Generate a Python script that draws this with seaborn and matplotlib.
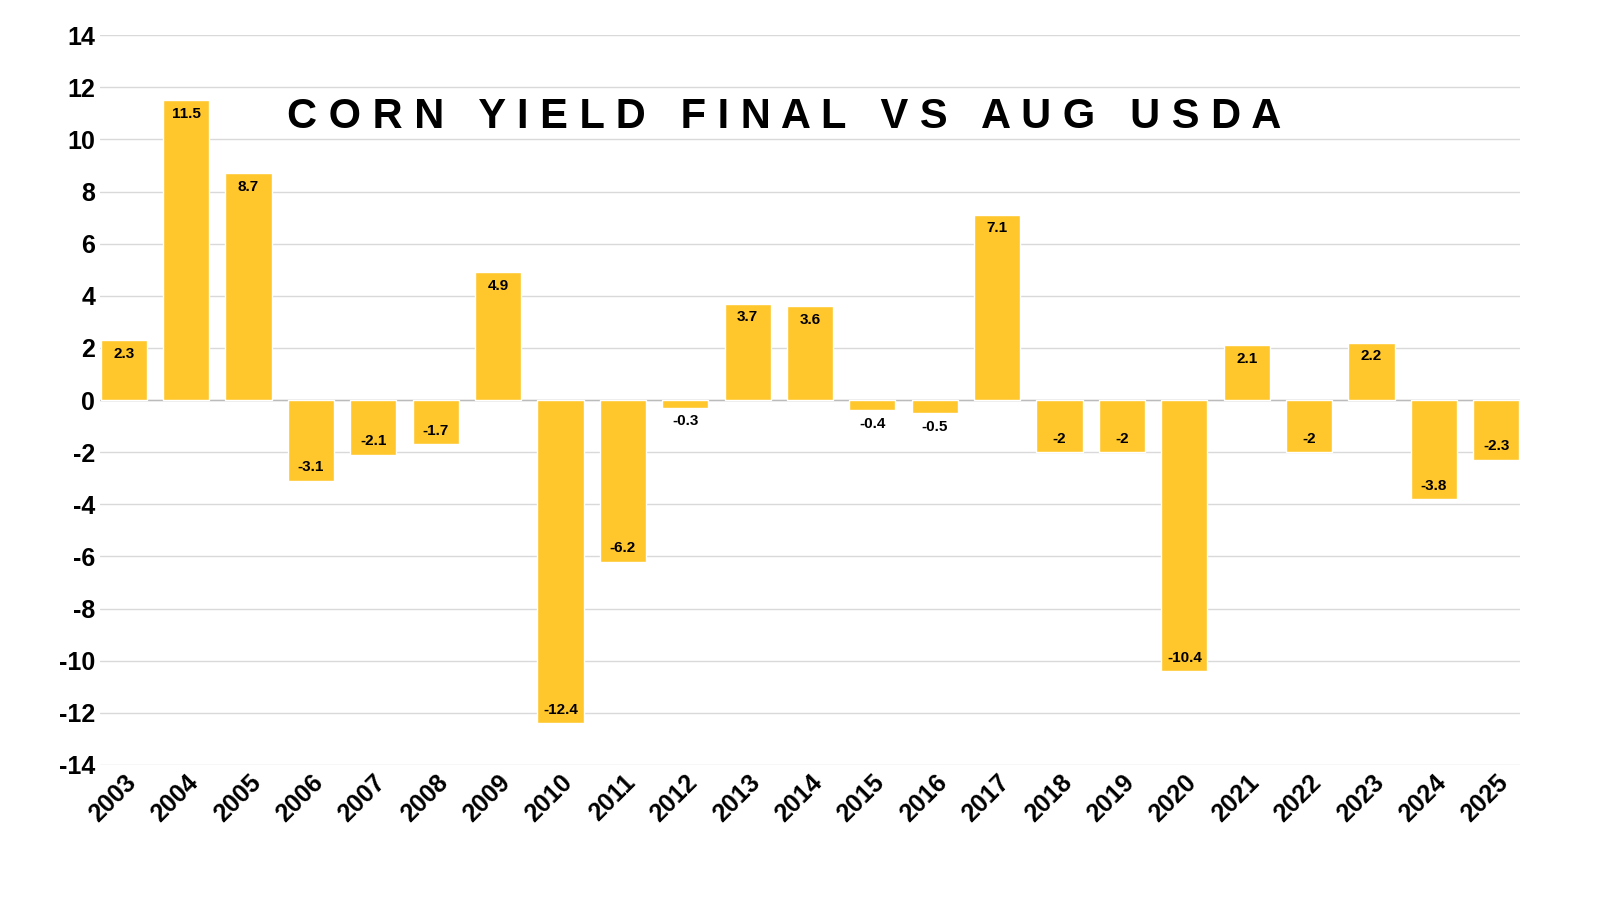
import matplotlib
matplotlib.use("Agg")
import matplotlib.pyplot as plt
import seaborn as sns
import pandas as pd

years = [str(y) for y in range(2003, 2026)]
diffs = [2.3, 11.5, 8.7, -3.1, -2.1, -1.7, 4.9, -12.4, -6.2, -0.3, 3.7, 3.6,
         -0.4, -0.5, 7.1, -2, -2, -10.4, 2.1, -2, 2.2, -3.8, -2.3]
title = "CORN YIELD FINAL VS AUG USDA"

sns.set_style("white")
plt.rcParams['font.family'] = ['Liberation Sans', 'DejaVu Sans']
plt.rcParams['axes.unicode_minus'] = False

df = pd.DataFrame({'year': years, 'diff': diffs})
fig = plt.figure(figsize=(16, 9), dpi=100)
ax = fig.add_axes([0.0625, 0.15, 0.8875, 0.811])
sns.barplot(data=df, x='year', y='diff', color='#FFC72C', saturation=1,
            width=0.74, ax=ax, zorder=3)

for i, v in enumerate(diffs):
    lab = f"{v:g}"
    if v >= 0:
        ax.text(i, v - 0.25, lab, ha='center', va='top', fontsize=11,
                fontweight='bold', color='black', zorder=4)
    elif v < -1:
        ax.text(i, v + 0.25, lab, ha='center', va='bottom', fontsize=11,
                fontweight='bold', color='black', zorder=4)
    else:
        ax.text(i, v - 0.25, lab, ha='center', va='top', fontsize=11,
                fontweight='bold', color='black', zorder=4)

ax.set_ylim(-14, 14)
ax.set_yticks(range(-14, 15, 2))
ax.set_xlim(-0.38, len(years) - 0.62)
ax.grid(axis='y', color='#d9d9d9', linewidth=1, zorder=0)
for s in ax.spines.values():
    s.set_visible(False)
ax.axhline(0, color='#bbbbbb', linewidth=1, zorder=2)
ax.set_xlabel('')
ax.set_ylabel('')
ax.tick_params(axis='both', length=0, labelsize=18, colors='black')
for t in ax.get_yticklabels():
    t.set_fontweight('bold')
for t in ax.get_xticklabels():
    t.set_fontweight('bold')
    t.set_rotation(45)
    t.set_ha('right')
    t.set_rotation_mode('anchor')

spaced = "   ".join(" ".join(w) for w in title.split())
fig.text(0.49, 0.87, spaced, ha='center', va='center', fontsize=30,
         fontweight='bold', color='black')

fig.savefig('out.png', dpi=100)
